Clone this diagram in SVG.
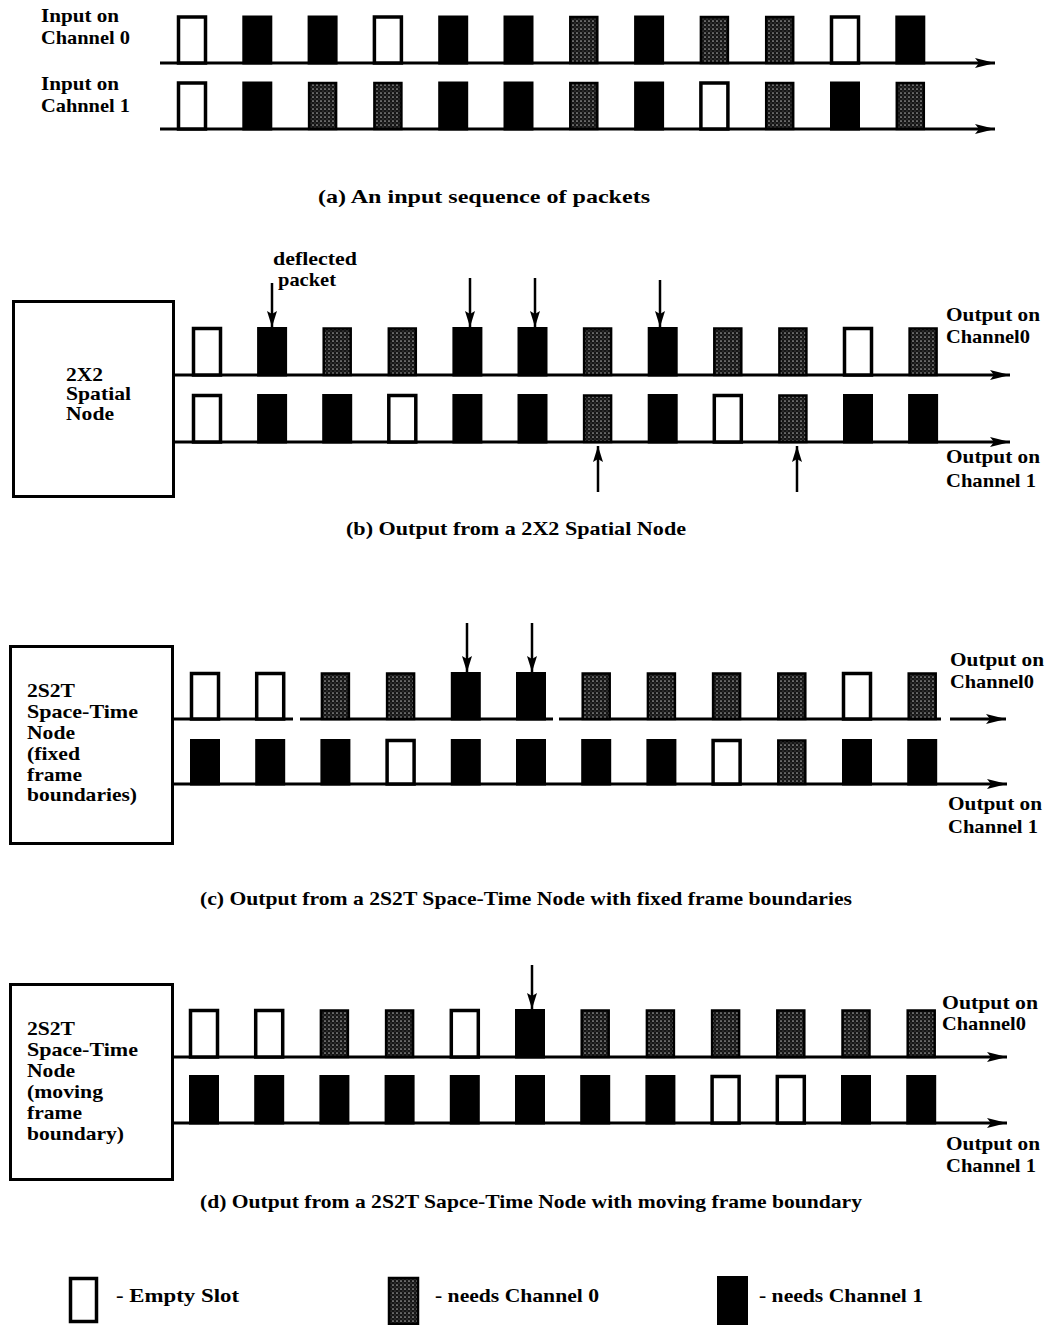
<svg xmlns="http://www.w3.org/2000/svg" width="1049" height="1325" viewBox="0 0 1049 1325">
<style>
text{font-family:"Liberation Serif","Times New Roman",serif;font-weight:bold;font-size:19px;fill:#000}
.e{fill:#fff;stroke:#000;stroke-width:3.5}
.b{fill:#000;stroke:#000;stroke-width:3}
.g{fill:url(#stip);stroke:#000;stroke-width:2.5}
.ax{stroke:#000;stroke-width:3;fill:none}
.ar{stroke:#000;stroke-width:2.5;fill:none}
.box{fill:#fff;stroke:#000;stroke-width:3}
</style>
<defs>
<pattern id="stip" width="4" height="4" patternUnits="userSpaceOnUse">
<rect width="4" height="4" fill="#151515"/>
<circle cx="1" cy="1" r="0.85" fill="#a8a8a8"/>
<circle cx="3" cy="3" r="0.55" fill="#707070"/>
</pattern>
<marker id="ah" viewBox="0 0 20 10" refX="20" refY="5" markerWidth="20" markerHeight="10" markerUnits="userSpaceOnUse" orient="auto">
<path d="M0,0 L20,5 L0,10 L4,5 Z" fill="#000"/>
</marker>
<marker id="dh" viewBox="0 0 16 10" refX="16" refY="5" markerWidth="16" markerHeight="10" markerUnits="userSpaceOnUse" orient="auto">
<path d="M0,0 L16,5 L0,10 L3,5 Z" fill="#000"/>
</marker>
</defs>
<rect width="1049" height="1325" fill="#fff"/>

<!-- Connectors: axes and pointer arrows -->
<g id="connectors">
<line class="ax" x1="160" y1="63" x2="995" y2="63" marker-end="url(#ah)"/>
<line class="ax" x1="160" y1="129" x2="995" y2="129" marker-end="url(#ah)"/>
<line class="ax" x1="174" y1="375" x2="1010" y2="375" marker-end="url(#ah)"/>
<line class="ax" x1="174" y1="442" x2="1010" y2="442" marker-end="url(#ah)"/>
<line class="ax" x1="174" y1="719" x2="293" y2="719"/>
<line class="ax" x1="300" y1="719" x2="553" y2="719"/>
<line class="ax" x1="559" y1="719" x2="941" y2="719"/>
<line class="ax" x1="950" y1="719" x2="1006" y2="719" marker-end="url(#ah)"/>
<line class="ax" x1="174" y1="784" x2="1007" y2="784" marker-end="url(#ah)"/>
<line class="ax" x1="174" y1="1057" x2="1007" y2="1057" marker-end="url(#ah)"/>
<line class="ax" x1="174" y1="1123" x2="1007" y2="1123" marker-end="url(#ah)"/>
<line class="ar" x1="272" y1="283" x2="272" y2="327" marker-end="url(#dh)"/>
<line class="ar" x1="470" y1="278" x2="470" y2="327" marker-end="url(#dh)"/>
<line class="ar" x1="535" y1="278" x2="535" y2="327" marker-end="url(#dh)"/>
<line class="ar" x1="660" y1="280" x2="660" y2="327" marker-end="url(#dh)"/>
<line class="ar" x1="598" y1="492" x2="598" y2="446" marker-end="url(#dh)"/>
<line class="ar" x1="797" y1="492" x2="797" y2="446" marker-end="url(#dh)"/>
<line class="ar" x1="467" y1="623" x2="467" y2="672" marker-end="url(#dh)"/>
<line class="ar" x1="532" y1="623" x2="532" y2="672" marker-end="url(#dh)"/>
<line class="ar" x1="532" y1="965" x2="532" y2="1009" marker-end="url(#dh)"/>
</g>

<!-- (a) -->
<g id="a-labels">
<text x="41" y="22" textLength="78" lengthAdjust="spacingAndGlyphs">Input on</text>
<text x="41" y="44" textLength="89" lengthAdjust="spacingAndGlyphs">Channel 0</text>
<text x="41" y="90" textLength="78" lengthAdjust="spacingAndGlyphs">Input on</text>
<text x="41" y="112" textLength="89" lengthAdjust="spacingAndGlyphs">Cahnnel 1</text>
</g>
<g id="a-row0">
<rect class="e" x="178.5" y="17" width="27" height="46"/>
<rect class="b" x="243.8" y="17" width="27" height="46"/>
<rect class="b" x="309.1" y="17" width="27" height="46"/>
<rect class="e" x="374.4" y="17" width="27" height="46"/>
<rect class="b" x="439.7" y="17" width="27" height="46"/>
<rect class="b" x="505" y="17" width="27" height="46"/>
<rect class="g" x="570.3" y="17" width="27" height="46"/>
<rect class="b" x="635.6" y="17" width="27" height="46"/>
<rect class="g" x="700.9" y="17" width="27" height="46"/>
<rect class="g" x="766.2" y="17" width="27" height="46"/>
<rect class="e" x="831.5" y="17" width="27" height="46"/>
<rect class="b" x="896.8" y="17" width="27" height="46"/>
</g>
<g id="a-row1">
<rect class="e" x="178.5" y="83" width="27" height="46"/>
<rect class="b" x="243.8" y="83" width="27" height="46"/>
<rect class="g" x="309.1" y="83" width="27" height="46"/>
<rect class="g" x="374.4" y="83" width="27" height="46"/>
<rect class="b" x="439.7" y="83" width="27" height="46"/>
<rect class="b" x="505" y="83" width="27" height="46"/>
<rect class="g" x="570.3" y="83" width="27" height="46"/>
<rect class="b" x="635.6" y="83" width="27" height="46"/>
<rect class="e" x="700.9" y="83" width="27" height="46"/>
<rect class="g" x="766.2" y="83" width="27" height="46"/>
<rect class="b" x="831.5" y="83" width="27" height="46"/>
<rect class="g" x="896.8" y="83" width="27" height="46"/>
</g>
<text x="318" y="203" textLength="332" lengthAdjust="spacingAndGlyphs">(a) An input sequence of packets</text>

<!-- (b) -->
<g id="node-2x2">
<rect class="box" x="13.5" y="301.5" width="160" height="195"/>
<text x="66" y="381" textLength="37" lengthAdjust="spacingAndGlyphs">2X2</text>
<text x="66" y="400" textLength="65" lengthAdjust="spacingAndGlyphs">Spatial</text>
<text x="66" y="420" textLength="48" lengthAdjust="spacingAndGlyphs">Node</text>
</g>
<g id="b-labels">
<text x="273" y="265" textLength="84" lengthAdjust="spacingAndGlyphs">deflected</text>
<text x="278" y="286" textLength="58" lengthAdjust="spacingAndGlyphs">packet</text>
<text x="946" y="321" textLength="94" lengthAdjust="spacingAndGlyphs">Output on</text>
<text x="946" y="343" textLength="84" lengthAdjust="spacingAndGlyphs">Channel0</text>
<text x="946" y="463" textLength="94" lengthAdjust="spacingAndGlyphs">Output on</text>
<text x="946" y="487" textLength="90" lengthAdjust="spacingAndGlyphs">Channel 1</text>
</g>
<g id="b-row0">
<rect class="e" x="193.5" y="328.5" width="27" height="46.5"/>
<rect class="b" x="258.6" y="328.5" width="27" height="46.5"/>
<rect class="g" x="323.7" y="328.5" width="27" height="46.5"/>
<rect class="g" x="388.8" y="328.5" width="27" height="46.5"/>
<rect class="b" x="453.9" y="328.5" width="27" height="46.5"/>
<rect class="b" x="519" y="328.5" width="27" height="46.5"/>
<rect class="g" x="584.1" y="328.5" width="27" height="46.5"/>
<rect class="b" x="649.2" y="328.5" width="27" height="46.5"/>
<rect class="g" x="714.3" y="328.5" width="27" height="46.5"/>
<rect class="g" x="779.4" y="328.5" width="27" height="46.5"/>
<rect class="e" x="844.5" y="328.5" width="27" height="46.5"/>
<rect class="g" x="909.6" y="328.5" width="27" height="46.5"/>
</g>
<g id="b-row1">
<rect class="e" x="193.5" y="395.5" width="27" height="46.5"/>
<rect class="b" x="258.6" y="395.5" width="27" height="46.5"/>
<rect class="b" x="323.7" y="395.5" width="27" height="46.5"/>
<rect class="e" x="388.8" y="395.5" width="27" height="46.5"/>
<rect class="b" x="453.9" y="395.5" width="27" height="46.5"/>
<rect class="b" x="519" y="395.5" width="27" height="46.5"/>
<rect class="g" x="584.1" y="395.5" width="27" height="46.5"/>
<rect class="b" x="649.2" y="395.5" width="27" height="46.5"/>
<rect class="e" x="714.3" y="395.5" width="27" height="46.5"/>
<rect class="g" x="779.4" y="395.5" width="27" height="46.5"/>
<rect class="b" x="844.5" y="395.5" width="27" height="46.5"/>
<rect class="b" x="909.6" y="395.5" width="27" height="46.5"/>
</g>
<text x="346" y="535" textLength="340" lengthAdjust="spacingAndGlyphs">(b) Output from a 2X2 Spatial Node</text>

<!-- (c) -->
<g id="node-2s2t-fixed">
<rect class="box" x="10.5" y="646.5" width="162" height="197"/>
<text x="27" y="697" textLength="48" lengthAdjust="spacingAndGlyphs">2S2T</text>
<text x="27" y="718" textLength="111" lengthAdjust="spacingAndGlyphs">Space-Time</text>
<text x="27" y="739" textLength="48" lengthAdjust="spacingAndGlyphs">Node</text>
<text x="27" y="760" textLength="53" lengthAdjust="spacingAndGlyphs">(fixed</text>
<text x="27" y="781" textLength="55" lengthAdjust="spacingAndGlyphs">frame</text>
<text x="27" y="801" textLength="110" lengthAdjust="spacingAndGlyphs">boundaries)</text>
</g>
<g id="c-labels">
<text x="950" y="666" textLength="94" lengthAdjust="spacingAndGlyphs">Output on</text>
<text x="950" y="688" textLength="84" lengthAdjust="spacingAndGlyphs">Channel0</text>
<text x="948" y="810" textLength="94" lengthAdjust="spacingAndGlyphs">Output on</text>
<text x="948" y="833" textLength="90" lengthAdjust="spacingAndGlyphs">Channel 1</text>
</g>
<g id="c-row0">
<rect class="e" x="191.5" y="673.5" width="27" height="45.5"/>
<rect class="e" x="256.7" y="673.5" width="27" height="45.5"/>
<rect class="g" x="321.9" y="673.5" width="27" height="45.5"/>
<rect class="g" x="387.1" y="673.5" width="27" height="45.5"/>
<rect class="b" x="452.3" y="673.5" width="27" height="45.5"/>
<rect class="b" x="517.5" y="673.5" width="27" height="45.5"/>
<rect class="g" x="582.7" y="673.5" width="27" height="45.5"/>
<rect class="g" x="647.9" y="673.5" width="27" height="45.5"/>
<rect class="g" x="713.1" y="673.5" width="27" height="45.5"/>
<rect class="g" x="778.3" y="673.5" width="27" height="45.5"/>
<rect class="e" x="843.5" y="673.5" width="27" height="45.5"/>
<rect class="g" x="908.7" y="673.5" width="27" height="45.5"/>
</g>
<g id="c-row1">
<rect class="b" x="191.5" y="740.5" width="27" height="43.5"/>
<rect class="b" x="256.7" y="740.5" width="27" height="43.5"/>
<rect class="b" x="321.9" y="740.5" width="27" height="43.5"/>
<rect class="e" x="387.1" y="740.5" width="27" height="43.5"/>
<rect class="b" x="452.3" y="740.5" width="27" height="43.5"/>
<rect class="b" x="517.5" y="740.5" width="27" height="43.5"/>
<rect class="b" x="582.7" y="740.5" width="27" height="43.5"/>
<rect class="b" x="647.9" y="740.5" width="27" height="43.5"/>
<rect class="e" x="713.1" y="740.5" width="27" height="43.5"/>
<rect class="g" x="778.3" y="740.5" width="27" height="43.5"/>
<rect class="b" x="843.5" y="740.5" width="27" height="43.5"/>
<rect class="b" x="908.7" y="740.5" width="27" height="43.5"/>
</g>
<text x="200" y="905" textLength="652" lengthAdjust="spacingAndGlyphs">(c) Output from a 2S2T Space-Time Node with fixed frame boundaries</text>

<!-- (d) -->
<g id="node-2s2t-moving">
<rect class="box" x="10.5" y="984.5" width="162" height="195"/>
<text x="27" y="1035" textLength="48" lengthAdjust="spacingAndGlyphs">2S2T</text>
<text x="27" y="1056" textLength="111" lengthAdjust="spacingAndGlyphs">Space-Time</text>
<text x="27" y="1077" textLength="48" lengthAdjust="spacingAndGlyphs">Node</text>
<text x="27" y="1098" textLength="76" lengthAdjust="spacingAndGlyphs">(moving</text>
<text x="27" y="1119" textLength="55" lengthAdjust="spacingAndGlyphs">frame</text>
<text x="27" y="1140" textLength="97" lengthAdjust="spacingAndGlyphs">boundary)</text>
</g>
<g id="d-labels">
<text x="942" y="1009" textLength="96" lengthAdjust="spacingAndGlyphs">Output on</text>
<text x="942" y="1030" textLength="84" lengthAdjust="spacingAndGlyphs">Channel0</text>
<text x="946" y="1150" textLength="94" lengthAdjust="spacingAndGlyphs">Output on</text>
<text x="946" y="1172" textLength="90" lengthAdjust="spacingAndGlyphs">Channel 1</text>
</g>
<g id="d-row0">
<rect class="e" x="190.5" y="1010.5" width="27" height="46.5"/>
<rect class="e" x="255.7" y="1010.5" width="27" height="46.5"/>
<rect class="g" x="320.9" y="1010.5" width="27" height="46.5"/>
<rect class="g" x="386.1" y="1010.5" width="27" height="46.5"/>
<rect class="e" x="451.3" y="1010.5" width="27" height="46.5"/>
<rect class="b" x="516.5" y="1010.5" width="27" height="46.5"/>
<rect class="g" x="581.7" y="1010.5" width="27" height="46.5"/>
<rect class="g" x="646.9" y="1010.5" width="27" height="46.5"/>
<rect class="g" x="712.1" y="1010.5" width="27" height="46.5"/>
<rect class="g" x="777.3" y="1010.5" width="27" height="46.5"/>
<rect class="g" x="842.5" y="1010.5" width="27" height="46.5"/>
<rect class="g" x="907.7" y="1010.5" width="27" height="46.5"/>
</g>
<g id="d-row1">
<rect class="b" x="190.5" y="1076.5" width="27" height="46.5"/>
<rect class="b" x="255.7" y="1076.5" width="27" height="46.5"/>
<rect class="b" x="320.9" y="1076.5" width="27" height="46.5"/>
<rect class="b" x="386.1" y="1076.5" width="27" height="46.5"/>
<rect class="b" x="451.3" y="1076.5" width="27" height="46.5"/>
<rect class="b" x="516.5" y="1076.5" width="27" height="46.5"/>
<rect class="b" x="581.7" y="1076.5" width="27" height="46.5"/>
<rect class="b" x="646.9" y="1076.5" width="27" height="46.5"/>
<rect class="e" x="712.1" y="1076.5" width="27" height="46.5"/>
<rect class="e" x="777.3" y="1076.5" width="27" height="46.5"/>
<rect class="b" x="842.5" y="1076.5" width="27" height="46.5"/>
<rect class="b" x="907.7" y="1076.5" width="27" height="46.5"/>
</g>
<text x="200" y="1208" textLength="662" lengthAdjust="spacingAndGlyphs">(d) Output from a 2S2T Sapce-Time Node with moving frame boundary</text>

<!-- legend -->
<g id="legend">
<rect class="e" x="70.5" y="1278.5" width="26" height="43"/>
<text x="116" y="1302" textLength="123" lengthAdjust="spacingAndGlyphs">- Empty Slot</text>
<rect class="g" x="389" y="1278" width="29" height="46"/>
<text x="435" y="1302" textLength="164" lengthAdjust="spacingAndGlyphs">- needs Channel 0</text>
<rect class="b" x="718.5" y="1277.5" width="28" height="47"/>
<text x="759" y="1302" textLength="164" lengthAdjust="spacingAndGlyphs">- needs Channel 1</text>
</g>
</svg>
